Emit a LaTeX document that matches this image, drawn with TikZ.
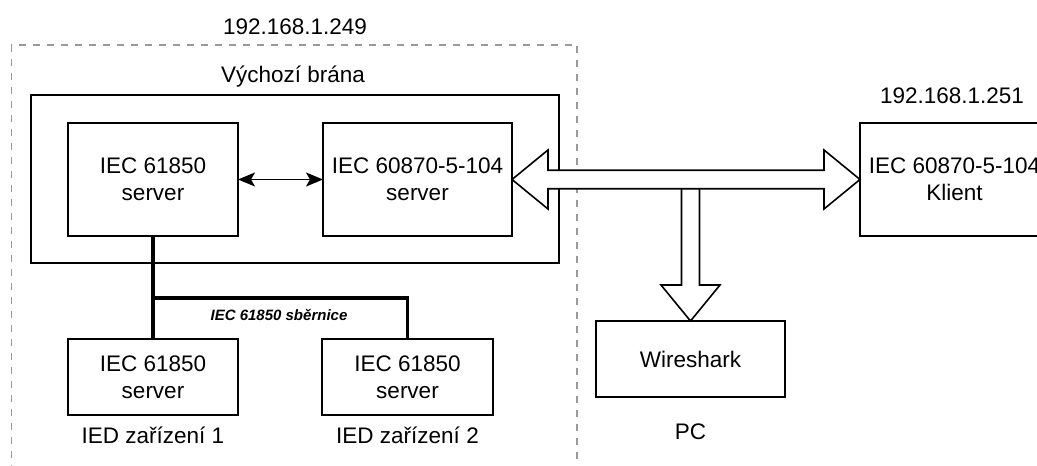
\documentclass[tikz,border=0pt]{standalone}
\usepackage{fontspec}
\setmainfont{Liberation Sans}
\usetikzlibrary{positioning,arrows.meta}
\definecolor{zonegray}{RGB}{153,153,153}

\begin{document}
\begin{tikzpicture}[x=1pt,y=1pt,on grid,
    box/.style={draw,line width=1.6pt,outer sep=0pt,align=center,
      minimum width=170pt,minimum height=113pt,font=\fontsize{22.5}{27}\selectfont},
    lbl/.style={font=\fontsize{22.5}{27}\selectfont},
    bus/.style={line width=3.5pt},
    twoway/.style={line width=1.6pt,{Stealth[length=17pt,width=14pt,inset=4pt]}-{Stealth[length=17pt,width=14pt,inset=4pt]}},
    fatarrow/.style={draw,fill=white,line width=1.6pt,line join=miter}]
   \clip (0,0) rectangle (1037,466);
   % zone of the gateway
   \draw[zonegray,line width=1.4pt,dash pattern=on 7pt off 7pt] (11.5,-20) rectangle (577,421);
   \node[lbl] (gwip) at (295,439) {192.168.1.249};
   \node[box,minimum width=528pt,minimum height=168pt] (gw) at (295,287) {};
   \node[lbl] (gwname) at (293,389) {Výchozí brána};
   \node[box] (srvA) at (153,286.5) {IEC 61850\\server};
   \node[box,minimum width=189pt] (srvB) [right=264.5pt of srvA] {IEC 60870-5-104\\server};
   % IED devices
   \node[box,minimum height=76pt] (ied1) [below=197.5pt of srvA] {IEC 61850\\server};
   \node[box,minimum width=171pt,minimum height=76pt] (ied2) [right=254.5pt of ied1] {IEC 61850\\server};
   \node[lbl] (ied1name) [below=58pt of ied1] {IED zařízení 1};
   \node[lbl] (ied2name) [below=58pt of ied2] {IED zařízení 2};
   % client and PC
   \node[box,minimum width=189pt] (klient) [right=537pt of srvB] {IEC 60870-5-104\\Klient};
   \node[lbl] (klip) at (952,370) {192.168.1.251};
   \node[box,minimum width=189pt,minimum height=76pt] (wshark) at (690.5,107) {Wireshark};
   \node[lbl] (pc) [below=73pt of wshark] {PC};
   % bus
   \coordinate (junc) at (153,168);
   \path[bus] (srvA) edge (ied1)
     (ied2.north) edge[to path={|- (\tikztotarget)}] (junc);
   \node[font=\bfseries\itshape\fontsize{15}{18}\selectfont] (buslbl) at (279,151) {IEC 61850 sběrnice};
   \path[twoway] (srvA) edge (srvB);
   % network arrows
   \draw[fatarrow] (wshark.north) -- ++(-29.5,36) -- ++(20.5,0) -- ++(0,96.75)
     -- ++(18,0) -- ++(0,-96.75) -- ++(20.5,0) -- cycle;
   \draw[fatarrow] (srvB.east) -- ++(36,29.5) -- ++(0,-20.25) -- ++(276,0) -- ++(0,20.25)
     -- (klient.west) -- ++(-36,-29.5) -- ++(0,20.25) -- ++(-276,0) -- ++(0,-20.25) -- cycle;
\end{tikzpicture}
\end{document}
